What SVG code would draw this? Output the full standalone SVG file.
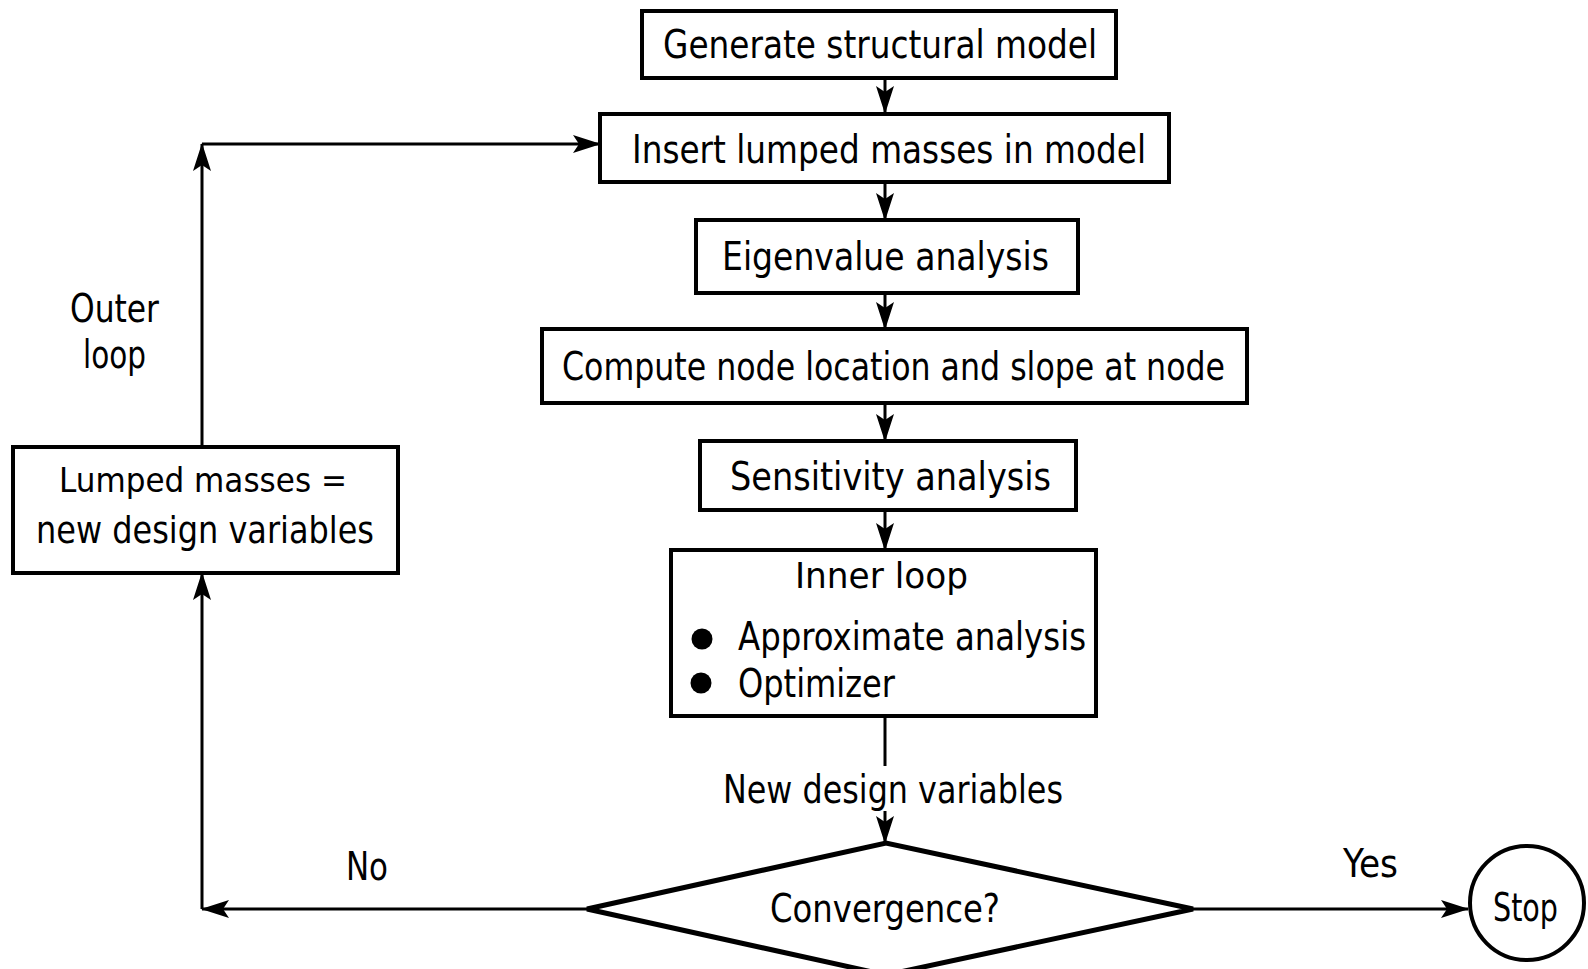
<svg xmlns="http://www.w3.org/2000/svg" width="1588" height="969" viewBox="0 0 1588 969">
<style>
.box{fill:#fff;stroke:#000;stroke-width:4}
.ln{fill:none;stroke:#000;stroke-width:3}
.t{font-family:"Liberation Sans Narrow","DejaVu Sans Condensed","Liberation Sans",sans-serif;font-size:39px;fill:#000}
</style>
<defs>
<marker id="ah" viewBox="0 0 28 18" refX="27" refY="9" markerWidth="28" markerHeight="18" markerUnits="userSpaceOnUse" orient="auto">
<path d="M0,0 L28,9 L0,18 L6,9 z" fill="#000"/>
</marker>
</defs>
<rect width="1588" height="969" fill="#fff"/>
<g id="connectors">
<line class="ln" x1="885" y1="78" x2="885" y2="113" marker-end="url(#ah)"/>
<line class="ln" x1="885" y1="182" x2="885" y2="220" marker-end="url(#ah)"/>
<line class="ln" x1="885" y1="293" x2="885" y2="329" marker-end="url(#ah)"/>
<line class="ln" x1="885" y1="403" x2="885" y2="441" marker-end="url(#ah)"/>
<line class="ln" x1="885" y1="510" x2="885" y2="550" marker-end="url(#ah)"/>
<line class="ln" x1="885" y1="716" x2="885" y2="766"/>
<line class="ln" x1="885" y1="811" x2="885" y2="843" marker-end="url(#ah)"/>
<line class="ln" x1="1193" y1="909" x2="1468" y2="909" marker-end="url(#ah)"/>
<line class="ln" x1="587" y1="909" x2="202" y2="909" marker-end="url(#ah)"/>
<line class="ln" x1="202" y1="909" x2="202" y2="573" marker-end="url(#ah)"/>
<line class="ln" x1="202" y1="447" x2="202" y2="144" marker-end="url(#ah)"/>
<line class="ln" x1="202" y1="144" x2="600" y2="144" marker-end="url(#ah)"/>
<text class="t" x="723" y="803" textLength="340" lengthAdjust="spacingAndGlyphs">New design variables</text>
<text class="t" x="346" y="880" textLength="42" lengthAdjust="spacingAndGlyphs">No</text>
<text class="t" x="1343" y="877" textLength="55" lengthAdjust="spacingAndGlyphs">Yes</text>
<text class="t" x="70" y="322" textLength="89" lengthAdjust="spacingAndGlyphs">Outer</text>
<text class="t" x="83" y="368" textLength="63" lengthAdjust="spacingAndGlyphs">loop</text>
</g>
<g id="n-generate">
<rect class="box" x="642" y="11" width="474" height="67"/>
<text class="t" x="663" y="58" textLength="434" lengthAdjust="spacingAndGlyphs">Generate structural model</text>
</g>
<g id="n-insert">
<rect class="box" x="600" y="114" width="569" height="68"/>
<text class="t" x="632" y="163" textLength="514" lengthAdjust="spacingAndGlyphs">Insert lumped masses in model</text>
</g>
<g id="n-eigen">
<rect class="box" x="696" y="220" width="382" height="73"/>
<text class="t" x="722" y="270" textLength="327" lengthAdjust="spacingAndGlyphs">Eigenvalue analysis</text>
</g>
<g id="n-compute">
<rect class="box" x="542" y="329" width="705" height="74"/>
<text class="t" x="562" y="380" textLength="663" lengthAdjust="spacingAndGlyphs">Compute node location and slope at node</text>
</g>
<g id="n-sensitivity">
<rect class="box" x="700" y="441" width="376" height="69"/>
<text class="t" x="730" y="490" textLength="321" lengthAdjust="spacingAndGlyphs">Sensitivity analysis</text>
</g>
<g id="n-inner">
<rect class="box" x="671" y="550" width="425" height="166"/>
<text class="t" x="795" y="588" style="font-size:35px" textLength="173" lengthAdjust="spacingAndGlyphs">Inner loop</text>
<circle cx="702" cy="639" r="10.5" fill="#000"/>
<circle cx="701" cy="683" r="10.5" fill="#000"/>
<text class="t" x="738" y="650" textLength="348" lengthAdjust="spacingAndGlyphs">Approximate analysis</text>
<text class="t" x="738" y="697" textLength="157" lengthAdjust="spacingAndGlyphs">Optimizer</text>
</g>
<g id="n-convergence">
<polygon class="box" points="587,909 886,843 1193,909 886,975" style="stroke-width:5"/>
<text class="t" x="770" y="922" textLength="230" lengthAdjust="spacingAndGlyphs">Convergence?</text>
</g>
<g id="n-stop">
<circle class="box" cx="1527" cy="903" r="57"/>
<text class="t" x="1493" y="921" textLength="65" lengthAdjust="spacingAndGlyphs">Stop</text>
</g>
<g id="n-lumped">
<rect class="box" x="13" y="447" width="385" height="126"/>
<text class="t" x="59" y="492" style="font-size:34px" textLength="288" lengthAdjust="spacingAndGlyphs">Lumped masses =</text>
<text class="t" x="36" y="543" style="font-size:38px" textLength="338" lengthAdjust="spacingAndGlyphs">new design variables</text>
</g>
</svg>
